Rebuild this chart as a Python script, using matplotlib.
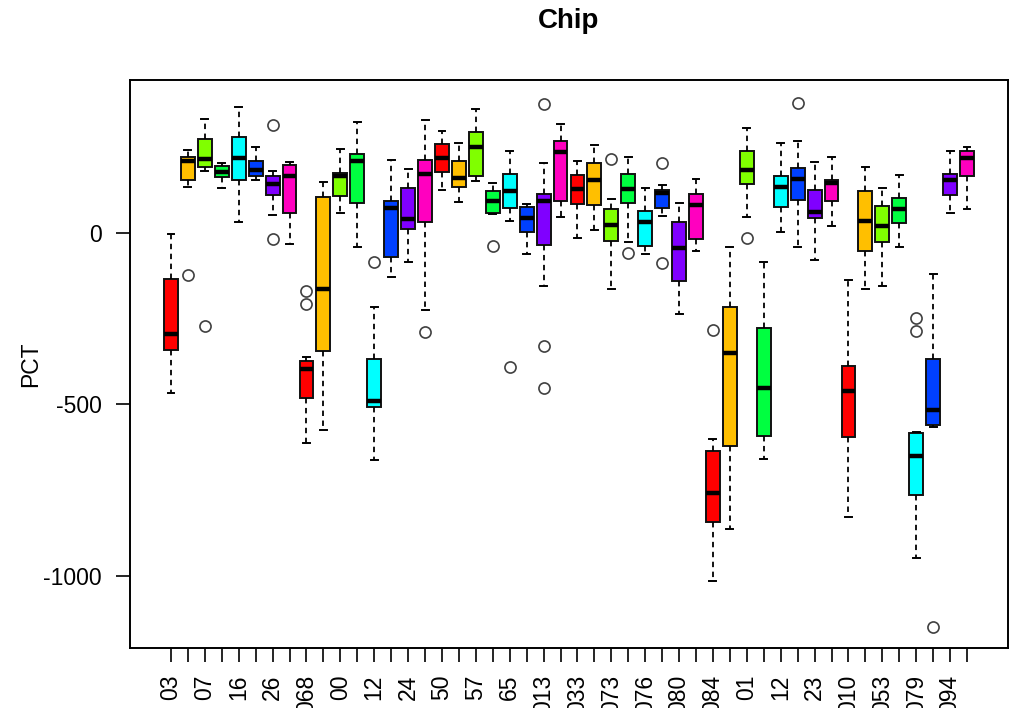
import matplotlib
matplotlib.use("Agg")
import matplotlib.pyplot as plt

plt.rcParams['font.family'] = ['Liberation Sans', 'DejaVu Sans']

# Resumo de cada caixa
whislo = [-469, 134, 180, 129, 30, 152, 51, -34, -612, -576, 56, -41, -663, -130, -85, -227,
          124, 89, 151, 55, 33, -63, -156, 46, -15, 9, -164, -26, -62, 49, -238, -55,
          -1017, -865, 47, -661, 1, -41, -81, 19, -828, -164, -156, -41, -949, -566, 57, 68]
q1 = [-341, 154, 192, 162, 153, 164, 109, 56, -481, -345, 106, 87, -508, -72, 11, 30,
      176, 133, 165, 58, 73, 1, -36, 91, 83, 80, -23, 85, -39, 73, -142, -20,
      -844, -621, 141, -592, 74, 94, 42, 91, -595, -55, -26, 29, -764, -562, 110, 164]
med = [-296, 209, 214, 178, 219, 182, 142, 166, -399, -164, 164, 208, -490, 73, 41, 170,
       219, 158, 250, 91, 121, 42, 93, 235, 127, 152, 22, 126, 31, 116, -45, 80,
       -760, -350, 182, -454, 132, 155, 59, 144, -461, 35, 19, 68, -651, -517, 153, 217]
q3 = [-135, 220, 274, 194, 279, 210, 166, 197, -374, 105, 174, 230, -368, 91, 131, 212,
      257, 208, 294, 120, 171, 76, 113, 266, 168, 203, 70, 171, 64, 124, 30, 112,
      -636, -217, 237, -278, 164, 187, 124, 153, -389, 121, 78, 102, -583, -368, 171, 239]
whishi = [-5, 240, 330, 204, 367, 250, 179, 207, -362, 149, 245, 322, -217, 213, 186, 328,
          295, 260, 359, 144, 239, 83, 203, 317, 208, 256, 98, 221, 131, 139, 85, 157,
          -603, -41, 305, -87, 260, 266, 206, 221, -138, 190, 131, 168, -580, -120, 237, 251]
outliers = [[], [-123], [-271], [], [], [], [313, -20], [],
            [-169, -207], [], [], [], [-86], [], [], [-291],
            [], [], [], [-40], [-393], [], [376, -331, -453], [],
            [], [], [216], [-60], [], [204, -88], [], [],
            [-283], [], [-15], [], [], [377], [], [],
            [], [], [], [], [-250, -287], [-1150], [], []]

# Rótulos visíveis (um a cada dois); o resto some por sobreposição
labels = ["03", "07", "16", "26", "068", "00", "12", "24",
          "50", "57", "65", "013", "033", "073", "076", "080",
          "084", "01", "12", "23", "010", "053", "079", "094"]

palette = ["#FF0000", "#FFBF00", "#80FF00", "#00FF40", "#00FFFF", "#0040FF", "#8000FF", "#FF00BF"]

n = len(med)
positions = list(range(1, n + 1))
stats = []
for i in range(n):
    stats.append(dict(whislo=whislo[i], q1=q1[i], med=med[i], q3=q3[i],
                      whishi=whishi[i], fliers=outliers[i]))

fig = plt.figure(figsize=(10.18, 7.08), dpi=100)
ax = fig.add_axes([130 / 1018, 1 - 648 / 708, 878 / 1018, 568 / 708])

bp = ax.bxp(stats, positions=positions, widths=0.82, patch_artist=True,
            boxprops=dict(edgecolor="#111111", linewidth=1.4),
            medianprops=dict(color="black", linewidth=3.2, solid_capstyle="butt"),
            whiskerprops=dict(color="black", linewidth=1.3, linestyle=(0, (3, 2.5))),
            capprops=dict(color="black", linewidth=1.4),
            flierprops=dict(marker="o", markerfacecolor="none", markeredgecolor="#404040",
                            markersize=8, markeredgewidth=1.2))
for i, box in enumerate(bp["boxes"]):
    box.set_facecolor(palette[i % len(palette)])

ax.set_xlim(-1.42, 50.42)
ax.set_ylim(-1211, 445)
ax.set_yticks([0, -500, -1000])
ax.set_yticklabels(["0", "-500", "-1000"])
ax.set_xticks(positions)
xlabels = []
for i in range(n):
    xlabels.append(labels[i // 2] if i % 2 == 0 else "")
ax.set_xticklabels(xlabels, rotation=90, va="top")

ax.tick_params(axis="both", length=10, width=1.2, labelsize=16.5, colors="black")
ax.tick_params(axis="y", pad=10.5)
ax.tick_params(axis="x", pad=9)
for s in ax.spines.values():
    s.set_linewidth(1.4)

fig.text(569 / 1018, 1 - 28 / 708, "Chip", ha="center", va="baseline",
         fontsize=20, fontweight="bold")
fig.text(31 / 1018, 1 - 364 / 708, "PCT", rotation=90, ha="center", va="center",
         fontsize=16.5)

fig.savefig("out.png", dpi=100)
